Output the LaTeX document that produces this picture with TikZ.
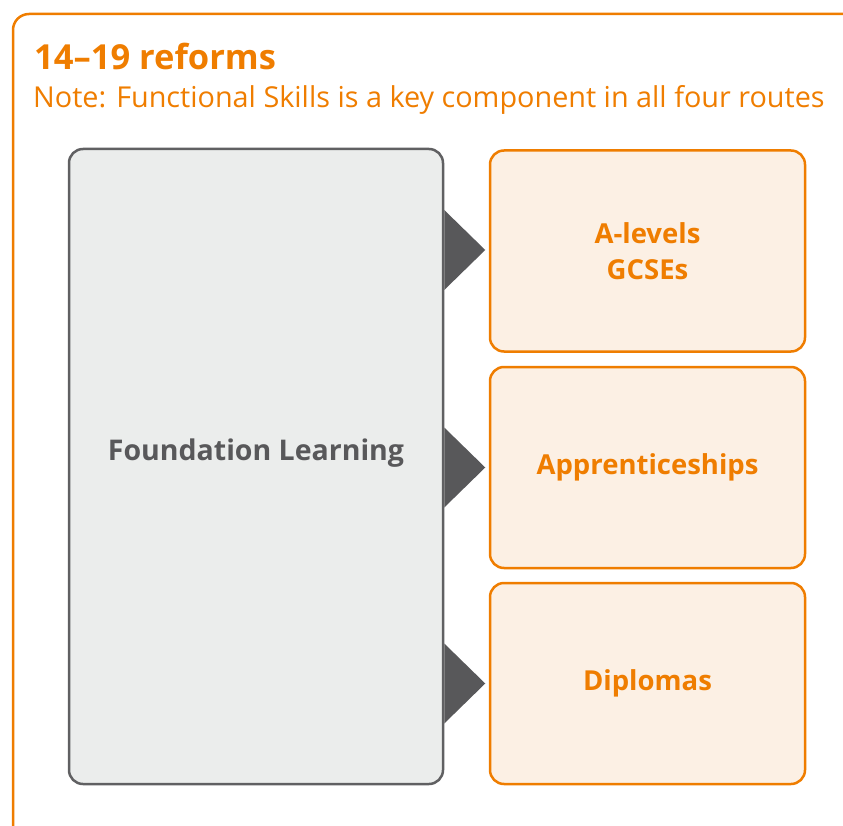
\documentclass[tikz,border=0pt]{standalone}
\usepackage{fontspec}
\setmainfont{Open Sans}
\usepackage{xcolor}
\usetikzlibrary{calc}

\definecolor{routeorange}{HTML}{EF7D00}
\definecolor{routefill}{HTML}{FCF0E4}
\definecolor{foundfill}{HTML}{EBEDEC}
\definecolor{founddraw}{HTML}{606062}
\definecolor{pointer}{HTML}{58585A}

\tikzset{
    routebox/.style={draw=routeorange, fill=routefill, line width=2.5pt,
        rounded corners=14pt, minimum width=315pt, minimum height=201pt,
        inner sep=0pt, align=center, text=routeorange,
        font=\fontsize{27.5}{36}\selectfont\bfseries},
}

\begin{document}
\begin{tikzpicture}[x=1pt, y=-1pt]
    \useasboundingbox (0,0) rectangle (843,826);
    % outer frame, running off the right and bottom edge
    \draw[routeorange, line width=2.5pt, rounded corners=16pt] (13,14) rectangle (880,860);
    \node[anchor=base west, text=routeorange, inner sep=0pt] (title) at (34,70)
        {\fontsize{34.5}{40}\selectfont\bfseries 14--19 reforms};
    \node[anchor=base west, text=routeorange, inner sep=0pt] (note) at (33,108)
        {\fontsize{28.8}{34}\selectfont Note: Functional Skills is a key component in all four routes};

    \node[draw=founddraw, fill=foundfill, line width=2.5pt, rounded corners=14pt,
        minimum width=374pt, minimum height=635pt, inner sep=0pt,
        label={[text=pointer, yshift=13pt, font=\fontsize{28.5}{34}\selectfont\bfseries]center:Foundation Learning}]
        (found) at (256,466.5) {};

    \node[routebox] (alevels) at (647.5,251) {A-levels\\GCSEs};
    \node[routebox] (appr) at (647.5,467.5) {Apprenticeships};
    \node[routebox] (dipl) at (647.5,683.5) {Diplomas};

    % pointers from the foundation box to each route
    \foreach \r in {appr, dipl}
        \fill[pointer] ($(found.east |- \r.west)+(0,-40)$) -- ++(41,40) -- ++(-41,40) -- cycle;
    \fill[pointer] (found.east |- 0,210) -- ++(41,40) -- ++(-41,40) -- cycle;
\end{tikzpicture}
\end{document}
